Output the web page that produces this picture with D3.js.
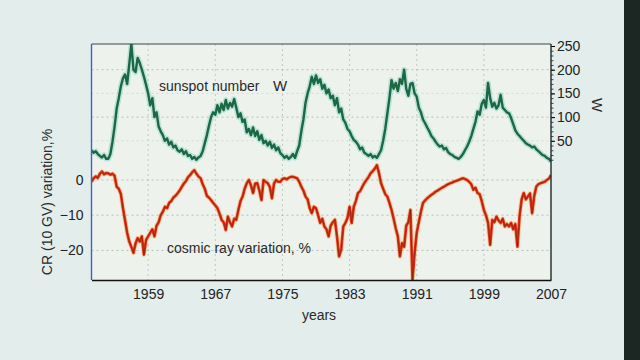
<!DOCTYPE html>
<html>
<head>
<meta charset="utf-8">
<script src="https://cdn.jsdelivr.net/npm/d3@7"></script>
<style>
  html, body { margin: 0; padding: 0; background: #e3eeec; }
  svg { display: block; }
  text { font-family: "Liberation Sans", Arial, sans-serif; }
</style>
</head>
<body>
<svg id="chart" width="640" height="360"></svg>
<script>
// ---- data (quarterly samples) ----
const startYear = 1952.25;
const stepYears = 0.25;

const sunspotW = [
  30, 25, 28, 22,    18, 15, 20, 12,    12, 22, 48, 80,    118, 140, 165, 182,
  190, 170, 212, 254,  200, 195, 225, 214,  200, 185, 168, 150,
  125, 140, 100, 110,  80, 70, 62, 50,  55, 42, 48, 36,  40, 30, 27, 32,
  22, 28, 18, 20,  12, 16, 10, 15,  18, 28, 45, 62,  82, 100, 110, 105,
  125, 110, 128, 115,  136, 118, 130, 122,  138, 120, 100, 108,  90, 95, 68, 75,
  62, 78, 60, 70,  52, 62, 45, 50,  40, 48, 35, 42,  30, 36, 24, 20,
  14, 18, 12, 16,  22, 14, 28, 40,  70, 95, 130, 150,  165, 185, 170, 188,
  172, 180, 160, 168,  150, 158, 140, 145,  125, 140, 110, 118,  95, 88, 75, 70,
  60, 52, 48, 42,  32, 36, 25, 22,  18, 22, 15, 18,  14, 22, 30, 50,
  75, 108, 140, 178,  160, 172, 155, 180,  170, 200, 160, 145,  170, 172, 150, 143,
  120, 110, 95, 87,  78, 70, 60, 55,  48, 42, 38, 40,  32, 35, 26, 22,
  20, 16, 14, 12,  16, 22, 30, 38,  48, 60, 75, 90,  112, 105, 128, 136,
  120, 172, 140, 122,  130, 118, 125, 147,  120, 115, 110, 108,  98, 85, 72, 65,
  60, 55, 50, 45,  42, 40, 36, 38,  32, 28, 24, 20,  18, 14, 12, 6
];

const cosmicRay = [
  -0.5, 0.5, 1.0, 0.6,   1.8, 2.4, 1.6, 2.0,   1.9, 1.5, 1.8, 1.2,   -1.9, -2.5, -4.0, -8.0,
  -11.5, -15, -17.5, -19,   -20.7, -18, -16.5, -17.5,   -16, -21.2, -17, -16,
  -15, -14, -16, -13,   -12, -10, -9, -7.6,   -8, -6.5, -6, -5,   -4.5, -3.8, -3, -2,
  -1, -0.3, 0.8, 1.4,   2.2, 2.8, 1.8, 1.0,   0.5, -1.2, -2.5, -4.5,   -5, -5.7, -6.5, -7.2,
  -8, -9.5, -11.3, -12,   -14.2, -10.4, -12, -13.2,   -11, -11.3, -8.5, -6,   -4.7, -2.5, -0.9, 0,
  -1.5, -3.7, -1, -0.9,   -3, -5.7, 0, -0.5,   -0.9, -2, -5.2, -1,   0, -0.5, -0.5, 0.3,
  0.5, 0.2, 0.6, 0.9,   0.9, 0.7, 0.5, -0.5,   -1.9, -3, -4.7, -5.5,   -8, -9.4, -7.6, -8,
  -10, -12.2, -11, -13.2,   -14, -16, -13, -12,   -11.3, -16, -21.7, -19.8,   -13.2, -12.2, -10.8, -7.6,
  -12.2, -7.6, -6, -3.7,   -3.2, -2, -0.9, 0,   0.8, 1.9, 2.5, 3.2,   4.2, 2, -0.9, -2.5,
  -4, -4.7, -6.5, -8.5,   -11, -13.7, -16, -21.7,   -17.9, -19, -13, -12,   -8.5, -28.3, -20.7, -15,
  -12, -9, -6.5, -5.8,   -5.2, -4.7, -4.2, -3.8,   -3.3, -3, -2.6, -2.2,   -1.9, -1.5, -1.2, -0.9,
  -0.7, -0.4, -0.2, 0,   0.3, 0.5, 0.3, 0,   -0.5, -1.2, -2.8, -2.2,   -3.7, -4, -6, -8.5,
  -10, -12.2, -18.4, -11.3,   -12, -10.4, -11.5, -12.2,   -11, -13.2, -12.5, -13.2,   -12.2, -14, -12.5, -18.9,
  -10.4, -5.5, -3.7, -5.5,   -4.7, -3.8, -9.4, -4.5,   -1.9, -1.2, -0.9, -0.7,   -0.5, 0, 0.4, 1.4
];

const yearTicks = [1959, 1967, 1975, 1983, 1991, 1999, 2007];
const wTicks = [50, 100, 150, 200, 250];
const crTicks = [0, -10, -20];

// ---- layout ----
const svg = d3.select("#chart");
const L = 91.5, R = 551, T = 44, B = 280;

svg.append("rect").attr("width", 640).attr("height", 360).attr("fill", "#e3eeec");
svg.append("rect").attr("x", 624).attr("y", 0).attr("width", 16).attr("height", 360).attr("fill", "#1c2622");
svg.append("rect").attr("x", L).attr("y", T).attr("width", R - L).attr("height", B - T).attr("fill", "#edf3ec");

const x = d3.scaleLinear().domain([1952.25, 2007]).range([L, R]);
const yW = d3.scaleLinear().domain([0, 250]).range([164.5, 46]);
const yCR = d3.scaleLinear().domain([-28.4, 0]).range([B, 180]);

// grid
const grid = svg.append("g").attr("stroke-dasharray", "2,3").attr("fill", "none");
yearTicks.filter(d => d < 2007).forEach(d => {
  grid.append("line").attr("x1", x(d)).attr("x2", x(d)).attr("y1", T).attr("y2", B)
    .attr("stroke", "#b4bdbd").attr("stroke-width", 0.8);
});
[200, 150, 100, 50].forEach(d => {
  grid.append("line").attr("x1", L).attr("x2", R).attr("y1", yW(d)).attr("y2", yW(d))
    .attr("stroke", d % 100 === 0 ? "#a9b3b3" : "#cbd4d2").attr("stroke-width", 0.8);
});
crTicks.forEach(d => {
  grid.append("line").attr("x1", L).attr("x2", R).attr("y1", yCR(d)).attr("y2", yCR(d))
    .attr("stroke", "#a9b3b3").attr("stroke-width", 0.8);
});

// clip
svg.append("clipPath").attr("id", "clip").append("rect")
  .attr("x", L).attr("y", T).attr("width", R - L).attr("height", B - T);

const yearOf = i => startYear + i * stepYears;
const lineW = d3.line().x((d, i) => x(yearOf(i))).y(d => yW(d));
const lineCR = d3.line().x((d, i) => x(yearOf(i))).y(d => yCR(d));

const plot = svg.append("g").attr("clip-path", "url(#clip)");
plot.append("path").datum(sunspotW).attr("d", lineW).attr("fill", "none")
  .attr("stroke", "#8fd3cc").attr("stroke-width", 5.5).attr("stroke-opacity", 0.55).attr("stroke-linejoin", "round");
plot.append("path").datum(sunspotW).attr("d", lineW).attr("fill", "none")
  .attr("stroke", "#1b6843").attr("stroke-width", 2.4).attr("stroke-linejoin", "round");

plot.append("path").datum(cosmicRay).attr("d", lineCR).attr("fill", "none")
  .attr("stroke", "#f5b04a").attr("stroke-width", 4.5).attr("stroke-opacity", 0.45).attr("stroke-linejoin", "round");
plot.append("path").datum(cosmicRay).attr("d", lineCR).attr("fill", "none")
  .attr("stroke", "#e3321b").attr("stroke-width", 2.7).attr("stroke-linejoin", "round");
plot.append("path").datum(cosmicRay).attr("d", lineCR).attr("fill", "none")
  .attr("stroke", "#6e1a10").attr("stroke-width", 0.8).attr("stroke-opacity", 0.7).attr("stroke-linejoin", "round");

// frame
svg.append("line").attr("x1", L).attr("x2", R).attr("y1", T).attr("y2", T).attr("stroke", "#3a4646").attr("stroke-width", 1.2);
svg.append("line").attr("x1", L).attr("x2", L).attr("y1", T).attr("y2", B).attr("stroke", "#3c62c8").attr("stroke-width", 1.4);

// axes
const fontSize = "14px";
const bottomAxis = svg.append("g").attr("transform", `translate(0,${B})`)
  .call(d3.axisBottom(x).tickValues(yearTicks).tickFormat(d3.format("d")).tickSize(0).tickPadding(9));
bottomAxis.select(".domain").attr("stroke", "#111").attr("stroke-width", 1.6);
bottomAxis.selectAll("text").attr("font-size", fontSize).attr("fill", "#222").attr("font-family", "Liberation Sans, Arial, sans-serif");

const leftAxis = svg.append("g").attr("transform", `translate(${L},0)`)
  .call(d3.axisLeft(yCR).tickValues(crTicks).tickSize(0).tickPadding(8));
leftAxis.select(".domain").remove();
leftAxis.selectAll("text").attr("font-size", fontSize).attr("fill", "#222").attr("font-family", "Liberation Sans, Arial, sans-serif");

const rightMinor = svg.append("g").attr("transform", `translate(${R},0)`)
  .call(d3.axisRight(yW).tickValues(d3.range(10, 251, 10)).tickSize(2.5).tickFormat(""));
rightMinor.select(".domain").remove();
rightMinor.selectAll("line").attr("stroke", "#445");

const rightAxis = svg.append("g").attr("transform", `translate(${R},0)`)
  .call(d3.axisRight(yW).tickValues(wTicks).tickSize(4).tickPadding(2));
rightAxis.select(".domain").remove();
rightAxis.selectAll("text").attr("font-size", fontSize).attr("fill", "#222").attr("font-family", "Liberation Sans, Arial, sans-serif");
svg.append("line").attr("x1", R).attr("x2", R).attr("y1", T).attr("y2", B).attr("stroke", "#1e2a2a").attr("stroke-width", 1.4);

// labels
svg.append("text").attr("x", 159).attr("y", 91).attr("font-size", "14px").attr("fill", "#2a2a2a")
  .text("sunspot number");
svg.append("text").attr("x", 273).attr("y", 91).attr("font-size", "15px").attr("font-family", "DejaVu Sans").attr("font-weight", 300).attr("fill", "#2a2a2a")
  .text("W");
svg.append("text").attr("x", 167).attr("y", 253).attr("font-size", "14px").attr("fill", "#2a2a2a")
  .text("cosmic ray variation, %");
svg.append("text").attr("transform", "translate(52,202) rotate(-90)").attr("text-anchor", "middle")
  .attr("font-size", "14px").attr("fill", "#2a2a2a").text("CR (10 GV) variation,%");
svg.append("text").attr("transform", "translate(592,105) rotate(90)").attr("text-anchor", "middle")
  .attr("font-size", "15px").attr("fill", "#2a2a2a").text("W");
svg.append("text").attr("x", 319).attr("y", 320).attr("text-anchor", "middle")
  .attr("font-size", "14px").attr("fill", "#2a2a2a").text("years");
</script>
</body>
</html>
